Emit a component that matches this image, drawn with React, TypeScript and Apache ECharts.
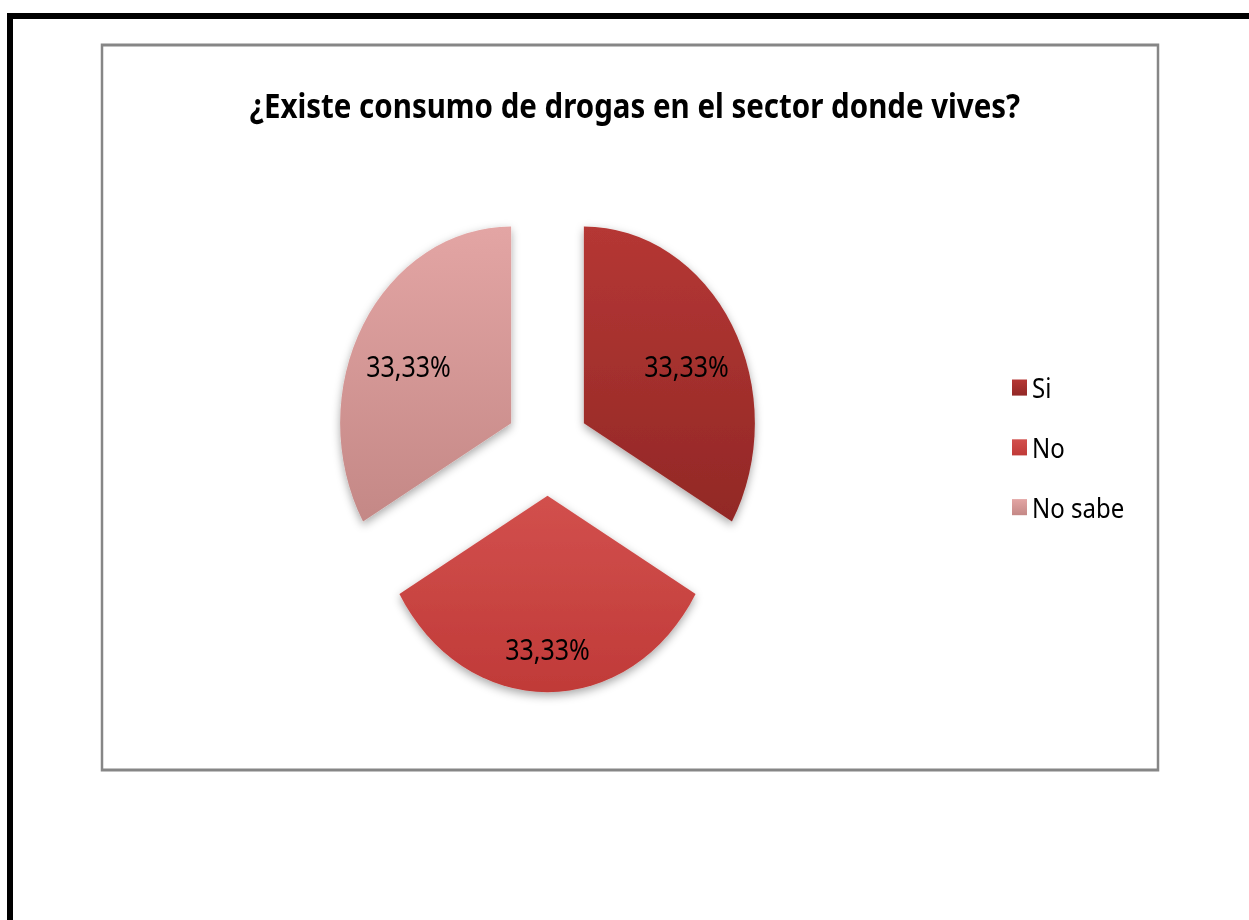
import React, { useEffect, useRef } from "react";
import * as echarts from "echarts";

const titleText = "¿Existe consumo de drogas en el sector donde vives?";
const categories = ["Si", "No", "No sabe"];
const values = [33.33, 33.33, 33.33];
const topColors = ["#B53734", "#D2504D", "#E3A5A4"];
const bottomColors = ["#922826", "#C03A38", "#C48886"];

const SY = 1.15;

export default function App() {
  const ref = useRef<HTMLDivElement>(null);
  useEffect(() => {
    if (!ref.current) return;
    const chart = echarts.init(ref.current, null, { renderer: "svg" });
    const total = values.reduce((a, b) => a + b, 0);
    const data = categories.map((name, i) => ({
      name,
      value: values[i],
      selected: true,
      itemStyle: {
        color: new echarts.graphic.LinearGradient(0, 0, 0, 1, [
          { offset: 0, color: topColors[i] },
          { offset: 1, color: bottomColors[i] },
        ]),
      },
    }));
    const labelShift = [
      { dx: 26, dy: -6 },
      { dx: 0, dy: 45 },
      { dx: -26, dy: -6 },
    ];
    chart.setOption({
      animation: false,
      backgroundColor: "#ffffff",
      title: {
        text: titleText,
        left: 630,
        top: 71,
        textAlign: "center",
        textStyle: {
          fontFamily: "Noto Sans",
          fontWeight: "bold",
          fontSize: 29.5,
          color: "#000000",
        },
      },
      legend: {
        orient: "vertical",
        left: 1007,
        top: 319,
        icon: "rect",
        itemWidth: 15,
        itemHeight: 14,
        itemGap: 26,
        selectedMode: false,
        textStyle: {
          fontFamily: "Noto Sans",
          fontSize: 24,
          lineHeight: 26,
          color: "#000000",
          padding: [0, 0, 0, 0],
        },
        data: categories,
      },
      graphic: [
        {
          type: "line",
          shape: { x1: 7, y1: 16 / SY, x2: 1249, y2: 16 / SY },
          style: { stroke: "#000000", lineWidth: 6 / SY },
        },
        {
          type: "line",
          shape: { x1: 10, y1: 13 / SY, x2: 10, y2: 800 },
          style: { stroke: "#000000", lineWidth: 6 },
        },
        {
          type: "rect",
          shape: { x: 102, y: 45 / SY, width: 1056, height: (770 - 45) / SY },
          style: { fill: "none", stroke: "#868686", lineWidth: 2.5 },
        },
      ],
      series: [
        {
          type: "pie",
          center: [547.5, 389],
          radius: 171,
          startAngle: 90,
          clockwise: true,
          selectedMode: "multiple",
          selectedOffset: 42,
          avoidLabelOverlap: false,
          emphasis: { disabled: true },
          itemStyle: {
            shadowBlur: 8,
            shadowColor: "rgba(0,0,0,0.35)",
            shadowOffsetY: 3,
          },
          label: {
            show: true,
            position: "inside",
            fontFamily: "Noto Sans",
            fontSize: 25,
            color: "#000000",
            formatter: (p: any) =>
              ((p.value / total) * 100).toFixed(2).replace(".", ",") + "%",
          },
          labelLine: { show: false },
          labelLayout: (p: any) => labelShift[p.dataIndex],
          data,
        },
      ],
    });
    return () => chart.dispose();
  }, []);
  return (
    <div
      ref={ref}
      style={{
        position: "fixed",
        left: 0,
        top: 0,
        width: "1249px",
        height: "800px",
        transform: `scaleY(${SY})`,
        transformOrigin: "0 0",
      }}
    />
  );
}
